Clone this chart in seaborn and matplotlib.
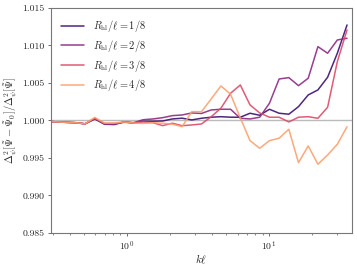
"""power spectrum ratio vs k for several half-light radii"""
import numpy as np
import pandas as pd
import matplotlib
matplotlib.use("Agg")
import matplotlib.pyplot as plt
import seaborn as sns

# k values (k * ell), log spaced
k = [0.292, 0.370, 0.433, 0.507, 0.593, 0.694, 0.813, 0.951, 1.113, 1.302,
     1.524, 1.784, 2.088, 2.443, 2.860, 3.347, 3.917, 4.585, 5.365, 6.280,
     7.349, 8.602, 10.07, 11.78, 13.79, 16.13, 18.88, 22.10, 25.86, 30.27, 35.43]

ratio_1 = [0.99985, 0.99975, 0.9997, 0.99955, 1.0002, 0.9995, 0.99945, 0.9998, 0.99965, 0.9999,
           0.9999, 0.99993, 1.0002, 1.0003, 1.00007, 1.00029, 1.00043, 1.0005, 1.00043, 1.00043,
           1.00096, 1.00069, 1.00149, 1.00096, 1.00083, 1.00184, 1.0034, 1.00407, 1.00576, 1.00896, 1.01273]
ratio_2 = [0.99985, 0.99975, 0.9997, 0.99955, 1.00025, 0.99955, 0.9995, 0.9998, 0.9997, 1.0001,
           1.0002, 1.00037, 1.00064, 1.00073, 1.0010, 1.00093, 1.0014, 1.00149, 1.00149, 1.00029,
           1.0002, 1.00043, 1.00229, 1.00553, 1.00571, 1.00464, 1.00563, 1.00984, 1.00896, 1.01073, 1.01096]
ratio_3 = [0.99985, 0.99975, 0.9997, 0.99955, 1.0003, 0.9996, 0.9996, 0.99975, 0.9997, 0.9998,
           0.9997, 0.99931, 0.99963, 0.9993, 0.9994, 0.99953, 1.0005, 1.00163, 1.00363, 1.00473,
           1.00207, 1.0010, 1.00043, 1.00043, 0.9998, 1.00043, 1.0005, 1.00029, 1.00176, 1.00784, 1.01207]
ratio_4 = [0.99985, 0.99975, 0.9997, 0.99955, 1.0004, 0.99965, 0.99965, 0.9998, 0.99965, 0.9996,
           0.9997, 0.99963, 0.9995, 0.99917, 1.00117, 1.00117, 1.00287, 1.0046, 1.00349, 1.00033,
           0.99731, 0.99629, 0.99731, 0.99763, 0.99883, 0.99437, 0.9966, 0.99416, 0.9954, 0.99683, 0.99917]

labels = [r"$R_{\rm hl}/\ell = 1/8$", r"$R_{\rm hl}/\ell = 2/8$",
          r"$R_{\rm hl}/\ell = 3/8$", r"$R_{\rm hl}/\ell = 4/8$"]

frames = []
for lab, vals in zip(labels, [ratio_1, ratio_2, ratio_3, ratio_4]):
    frames.append(pd.DataFrame({"k": k, "ratio": vals, "label": lab}))
df = pd.concat(frames, ignore_index=True)

sns.set_style("ticks")
plt.rcParams["font.family"] = "serif"
plt.rcParams["font.serif"] = ["cmr10", "DejaVu Serif"]
plt.rcParams["mathtext.fontset"] = "cm"
plt.rcParams["axes.formatter.use_mathtext"] = True
plt.rcParams["axes.unicode_minus"] = False

fig = plt.figure(figsize=(3.57, 2.65), dpi=100)
ax = fig.add_axes([0.143, 0.121, 0.843, 0.849])

ax.axhline(1.0, color="#bbbbbb", lw=1.0, zorder=1)
sns.lineplot(data=df, x="k", y="ratio", hue="label", palette="magma",
             lw=1.1, alpha=0.9, ax=ax, legend=True)

ax.set_xscale("log")
ax.set_xlim(k[0], 38.4)
ax.set_ylim(0.985, 1.015)
ax.set_yticks(np.arange(0.985, 1.0151, 0.005))
ax.yaxis.set_major_formatter(matplotlib.ticker.FormatStrFormatter("%.3f"))
ax.tick_params(labelsize=7, length=2.5, width=0.6, color="#555555", pad=2)
ax.tick_params(which="minor", length=1.5, width=0.5, color="#555555")
for s in ax.spines.values():
    s.set_color("#777777")
    s.set_linewidth(0.8)

ax.set_xlabel(r"$k\ell$", fontsize=8, labelpad=0)
ax.set_ylabel(r"$\Delta^2_\psi[\tilde\Psi - \tilde\Psi_0]/\Delta^2_\psi[\tilde\Psi]$", fontsize=7.5, labelpad=2)
ax.legend(frameon=False, loc="upper left", fontsize=7.5, title=None,
          handlelength=2.2, labelspacing=0.35, borderaxespad=0.6)

fig.savefig("out.png", dpi=100)
